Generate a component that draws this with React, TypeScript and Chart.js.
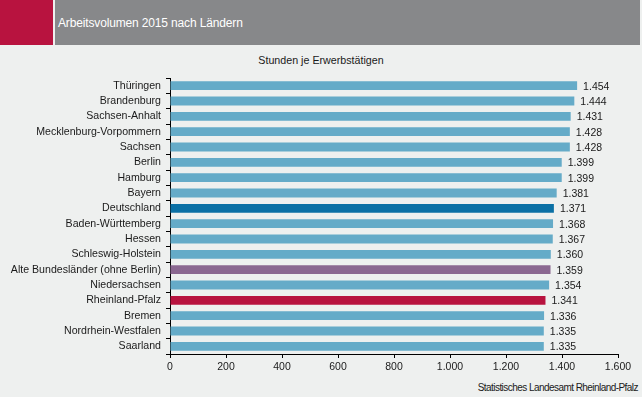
import React, { useEffect, useRef } from "react";
import { Chart, registerables } from "chart.js";

Chart.register(...registerables);

const categories = [
  "Thüringen",
  "Brandenburg",
  "Sachsen-Anhalt",
  "Mecklenburg-Vorpommern",
  "Sachsen",
  "Berlin",
  "Hamburg",
  "Bayern",
  "Deutschland",
  "Baden-Württemberg",
  "Hessen",
  "Schleswig-Holstein",
  "Alte Bundesländer (ohne Berlin)",
  "Niedersachsen",
  "Rheinland-Pfalz",
  "Bremen",
  "Nordrhein-Westfalen",
  "Saarland",
];

const values = [1454, 1444, 1431, 1428, 1428, 1399, 1399, 1381, 1371, 1368, 1367, 1360, 1359, 1354, 1341, 1336, 1335, 1335];

const barColors = categories.map((c) =>
  c === "Deutschland" ? "#0b70a5" : c === "Alte Bundesländer (ohne Berlin)" ? "#8b6891" : c === "Rheinland-Pfalz" ? "#b8133f" : "#65abc8"
);

const title = "Arbeitsvolumen 2015 nach Ländern";
const subtitle = "Stunden je Erwerbstätigen";
const source = "Statistisches Landesamt Rheinland-Pfalz";

const fmt = (v: number) => {
  const s = Math.round(v).toString();
  return s.replace(/\B(?=(\d{3})+(?!\d))/g, ".");
};

const FONT = "'Liberation Sans', Arial, sans-serif";
const TEXT = "#1a1a1a";

const labelPlugin = {
  id: "valueLabels",
  afterDatasetsDraw(chart: any) {
    const ctx = chart.ctx;
    const meta = chart.getDatasetMeta(0);
    ctx.save();
    ctx.font = `10.5px ${FONT}`;
    ctx.fillStyle = TEXT;
    ctx.textAlign = "left";
    ctx.textBaseline = "middle";
    meta.data.forEach((bar: any, i: number) => {
      ctx.fillText(fmt(values[i]), bar.x + 6, bar.y + 1);
    });
    ctx.restore();
  },
};

export default function App() {
  const ref = useRef<HTMLCanvasElement | null>(null);
  useEffect(() => {
    if (!ref.current) return;
    const chart = new Chart(ref.current, {
      type: "bar",
      data: {
        labels: categories,
        datasets: [
          {
            data: values,
            backgroundColor: barColors,
            barPercentage: 0.58,
            categoryPercentage: 1,
          },
        ],
      },
      options: {
        indexAxis: "y",
        animation: false,
        responsive: true,
        maintainAspectRatio: false,
        layout: { padding: { top: 78, right: 24, left: 0, bottom: 0 } },
        plugins: { legend: { display: false }, tooltip: { enabled: false } },
        scales: {
          x: {
            min: 0,
            max: 1600,
            ticks: {
              stepSize: 200,
              color: TEXT,
              font: { family: FONT, size: 10.5 },
              padding: 3,
              callback: (v: any) => fmt(Number(v)),
              maxRotation: 0,
            },
            grid: { drawOnChartArea: false, tickLength: 4, color: "#000" },
            border: { color: "#000", width: 1 },
            afterFit: (s: any) => {
              s.height = 43;
            },
          },
          y: {
            ticks: { color: TEXT, font: { family: FONT, size: 10.6 }, padding: 5, autoSkip: false },
            grid: { drawOnChartArea: false, tickLength: 4, color: "#000", offset: true },
            border: { color: "#000", width: 1 },
            afterFit: (s: any) => {
              s.width = 170;
            },
          },
        },
      },
      plugins: [labelPlugin],
    });
    return () => chart.destroy();
  }, []);

  return (
    <div
      style={{
        position: "fixed",
        left: 0,
        top: 0,
        width: 642,
        height: 397,
        background: "#eef0ef",
        fontFamily: FONT,
        overflow: "hidden",
      }}
    >
      <div style={{ position: "absolute", left: 0, top: 0, width: 53, height: 45, background: "#b8133f" }} />
      <div style={{ position: "absolute", left: 55, top: 0, width: 585, height: 45, background: "#87888a" }} />
      <div
        style={{
          position: "absolute",
          left: 58,
          top: 16,
          color: "#ffffff",
          fontSize: 12,
          lineHeight: "15px",
          whiteSpace: "nowrap",
          letterSpacing: "-0.15px",
        }}
      >
        {title}
      </div>
      <div
        style={{
          position: "absolute",
          left: 0,
          width: 642,
          top: 53,
          textAlign: "center",
          color: TEXT,
          fontSize: 10.7,
          lineHeight: "14px",
        }}
      >
        {subtitle}
      </div>
      <div
        style={{
          position: "absolute",
          right: 4,
          top: 382,
          color: TEXT,
          fontSize: 10,
          lineHeight: "12px",
          whiteSpace: "nowrap",
          letterSpacing: "-0.55px",
        }}
      >
        {source}
      </div>
      <div style={{ position: "absolute", left: 0, top: 0, width: 642, height: 397 }}>
        <canvas ref={ref} />
      </div>
    </div>
  );
}
